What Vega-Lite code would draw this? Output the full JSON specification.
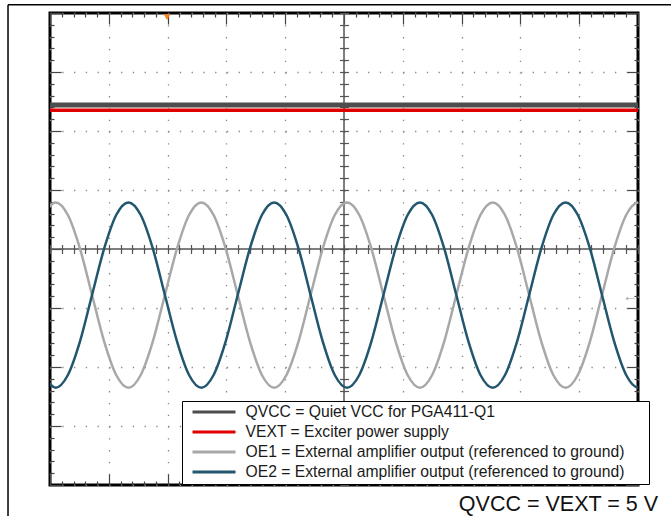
{
  "$schema": "https://vega.github.io/schema/vega-lite/v6.json",
  "width": 588,
  "height": 472,
  "autosize": "none",
  "padding": {"left": 50, "top": 13, "right": 33, "bottom": 31},
  "background": "white",
  "config": {
    "view": {"stroke": "#000", "strokeWidth": 3},
    "font": "Liberation Sans"
  },
  "title": {
    "text": "QVCC = VEXT = 5 V",
    "orient": "bottom",
    "anchor": "end",
    "frame": "group",
    "fontSize": 21.5,
    "fontWeight": "normal",
    "font": "Liberation Sans",
    "color": "#111",
    "dx": 20,
    "offset": -27.5
  },
  "datasets": {
    "one": [{}],
    "scope": [
      {"t": -5.111, "OE1": 0.58, "OE2": -2.14, "QVCC": 2.44, "VEXT": 2.35},
      {"t": -4.904, "OE1": 0.79, "OE2": -2.35, "QVCC": 2.44, "VEXT": 2.35},
      {"t": -4.698, "OE1": 0.58, "OE2": -2.14, "QVCC": 2.44, "VEXT": 2.35},
      {"t": -4.491, "OE1": 0.01, "OE2": -1.57, "QVCC": 2.44, "VEXT": 2.35},
      {"t": -4.285, "OE1": -0.78, "OE2": -0.78, "QVCC": 2.44, "VEXT": 2.35},
      {"t": -4.078, "OE1": -1.57, "OE2": 0.01, "QVCC": 2.44, "VEXT": 2.35},
      {"t": -3.872, "OE1": -2.14, "OE2": 0.58, "QVCC": 2.44, "VEXT": 2.35},
      {"t": -3.665, "OE1": -2.35, "OE2": 0.79, "QVCC": 2.44, "VEXT": 2.35},
      {"t": -3.459, "OE1": -2.14, "OE2": 0.58, "QVCC": 2.44, "VEXT": 2.35},
      {"t": -3.252, "OE1": -1.57, "OE2": 0.01, "QVCC": 2.44, "VEXT": 2.35},
      {"t": -3.046, "OE1": -0.78, "OE2": -0.78, "QVCC": 2.44, "VEXT": 2.35},
      {"t": -2.839, "OE1": 0.01, "OE2": -1.57, "QVCC": 2.44, "VEXT": 2.35},
      {"t": -2.633, "OE1": 0.58, "OE2": -2.14, "QVCC": 2.44, "VEXT": 2.35},
      {"t": -2.426, "OE1": 0.79, "OE2": -2.35, "QVCC": 2.44, "VEXT": 2.35},
      {"t": -2.220, "OE1": 0.58, "OE2": -2.14, "QVCC": 2.44, "VEXT": 2.35},
      {"t": -2.013, "OE1": 0.01, "OE2": -1.57, "QVCC": 2.44, "VEXT": 2.35},
      {"t": -1.807, "OE1": -0.78, "OE2": -0.78, "QVCC": 2.44, "VEXT": 2.35},
      {"t": -1.600, "OE1": -1.57, "OE2": 0.01, "QVCC": 2.44, "VEXT": 2.35},
      {"t": -1.394, "OE1": -2.14, "OE2": 0.58, "QVCC": 2.44, "VEXT": 2.35},
      {"t": -1.187, "OE1": -2.35, "OE2": 0.79, "QVCC": 2.44, "VEXT": 2.35},
      {"t": -0.981, "OE1": -2.14, "OE2": 0.58, "QVCC": 2.44, "VEXT": 2.35},
      {"t": -0.774, "OE1": -1.57, "OE2": 0.01, "QVCC": 2.44, "VEXT": 2.35},
      {"t": -0.568, "OE1": -0.78, "OE2": -0.78, "QVCC": 2.44, "VEXT": 2.35},
      {"t": -0.361, "OE1": 0.01, "OE2": -1.57, "QVCC": 2.44, "VEXT": 2.35},
      {"t": -0.155, "OE1": 0.58, "OE2": -2.14, "QVCC": 2.44, "VEXT": 2.35},
      {"t": 0.052, "OE1": 0.79, "OE2": -2.35, "QVCC": 2.44, "VEXT": 2.35},
      {"t": 0.258, "OE1": 0.58, "OE2": -2.14, "QVCC": 2.44, "VEXT": 2.35},
      {"t": 0.465, "OE1": 0.01, "OE2": -1.57, "QVCC": 2.44, "VEXT": 2.35},
      {"t": 0.671, "OE1": -0.78, "OE2": -0.78, "QVCC": 2.44, "VEXT": 2.35},
      {"t": 0.878, "OE1": -1.57, "OE2": 0.01, "QVCC": 2.44, "VEXT": 2.35},
      {"t": 1.084, "OE1": -2.14, "OE2": 0.58, "QVCC": 2.44, "VEXT": 2.35},
      {"t": 1.291, "OE1": -2.35, "OE2": 0.79, "QVCC": 2.44, "VEXT": 2.35},
      {"t": 1.497, "OE1": -2.14, "OE2": 0.58, "QVCC": 2.44, "VEXT": 2.35},
      {"t": 1.704, "OE1": -1.57, "OE2": 0.01, "QVCC": 2.44, "VEXT": 2.35},
      {"t": 1.910, "OE1": -0.78, "OE2": -0.78, "QVCC": 2.44, "VEXT": 2.35},
      {"t": 2.117, "OE1": 0.01, "OE2": -1.57, "QVCC": 2.44, "VEXT": 2.35},
      {"t": 2.323, "OE1": 0.58, "OE2": -2.14, "QVCC": 2.44, "VEXT": 2.35},
      {"t": 2.530, "OE1": 0.79, "OE2": -2.35, "QVCC": 2.44, "VEXT": 2.35},
      {"t": 2.736, "OE1": 0.58, "OE2": -2.14, "QVCC": 2.44, "VEXT": 2.35},
      {"t": 2.943, "OE1": 0.01, "OE2": -1.57, "QVCC": 2.44, "VEXT": 2.35},
      {"t": 3.149, "OE1": -0.78, "OE2": -0.78, "QVCC": 2.44, "VEXT": 2.35},
      {"t": 3.356, "OE1": -1.57, "OE2": 0.01, "QVCC": 2.44, "VEXT": 2.35},
      {"t": 3.562, "OE1": -2.14, "OE2": 0.58, "QVCC": 2.44, "VEXT": 2.35},
      {"t": 3.769, "OE1": -2.35, "OE2": 0.79, "QVCC": 2.44, "VEXT": 2.35},
      {"t": 3.975, "OE1": -2.14, "OE2": 0.58, "QVCC": 2.44, "VEXT": 2.35},
      {"t": 4.182, "OE1": -1.57, "OE2": 0.01, "QVCC": 2.44, "VEXT": 2.35},
      {"t": 4.388, "OE1": -0.78, "OE2": -0.78, "QVCC": 2.44, "VEXT": 2.35},
      {"t": 4.595, "OE1": 0.01, "OE2": -1.57, "QVCC": 2.44, "VEXT": 2.35},
      {"t": 4.801, "OE1": 0.58, "OE2": -2.14, "QVCC": 2.44, "VEXT": 2.35},
      {"t": 5.008, "OE1": 0.79, "OE2": -2.35, "QVCC": 2.44, "VEXT": 2.35},
      {"t": 5.214, "OE1": 0.58, "OE2": -2.14, "QVCC": 2.44, "VEXT": 2.35}
    ]
  },
  "resolve": {"axis": {"x": "independent", "y": "independent"}},
  "layer": [
    {
      "data": {"name": "one"},
      "mark": {"type": "rule", "color": "#000", "strokeWidth": 1.5, "clip": false},
      "encoding": {
        "x": {"datum": -5.714, "type": "quantitative", "scale": {"domain": [-5, 5], "nice": false, "zero": false}, "axis": null},
        "y": {"datum": 4.14, "type": "quantitative", "scale": {"domain": [-4, 4], "nice": false, "zero": false}, "axis": null},
        "y2": {"datum": -4.6}
      }
    },
    {
      "data": {"name": "one"},
      "mark": {"type": "rule", "color": "#000", "strokeWidth": 1.5, "clip": false},
      "encoding": {
        "x": {"datum": -5.714, "type": "quantitative", "axis": null},
        "x2": {"datum": 5.8},
        "y": {"datum": 4.14, "type": "quantitative", "axis": null}
      }
    },
    {
      "data": {"name": "one"},
      "mark": {"type": "rule", "color": "#555", "strokeWidth": 1.5},
      "encoding": {"y": {"datum": 0, "type": "quantitative", "axis": null}}
    },
    {
      "data": {"name": "one"},
      "mark": {"type": "rule", "color": "#555", "strokeWidth": 1.5},
      "encoding": {"x": {"datum": 0, "type": "quantitative", "axis": null}}
    },
    {
      "data": {"name": "scope"},
      "transform": [{"fold": ["QVCC", "VEXT", "OE1", "OE2"], "as": ["s", "v"]}],
      "mark": {"type": "line", "clip": true, "interpolate": "monotone"},
      "encoding": {
        "x": {
          "field": "t", "type": "quantitative",
          "axis": {
            "orient": "bottom", "title": null, "labels": false, "domain": false,
            "values": [-5,-4.8,-4.6,-4.4,-4.2,-4,-3.8,-3.6,-3.4,-3.2,-3,-2.8,-2.6,-2.4,-2.2,-2,-1.8,-1.6,-1.4,-1.2,-1,-0.8,-0.6,-0.4,-0.2,0,0.2,0.4,0.6,0.8,1,1.2,1.4,1.6,1.8,2,2.2,2.4,2.6,2.8,3,3.2,3.4,3.6,3.8,4,4.2,4.4,4.6,4.8,5],
            "ticks": true, "tickColor": "#444", "tickWidth": 1.2,
            "tickSize": {"condition": {"test": "abs(datum.value - round(datum.value)) < 0.01", "value": -11}, "value": -4},
            "grid": true, "gridColor": "#888", "gridWidth": 1.3, "gridDash": [1.3, 10.5],
            "gridOpacity": {"condition": {"test": "abs(datum.value - round(datum.value)) < 0.01", "value": 1}, "value": 0}
          }
        },
        "y": {
          "field": "v", "type": "quantitative",
          "axis": {
            "orient": "left", "title": null, "labels": false, "domain": false,
            "values": [-4,-3.8,-3.6,-3.4,-3.2,-3,-2.8,-2.6,-2.4,-2.2,-2,-1.8,-1.6,-1.4,-1.2,-1,-0.8,-0.6,-0.4,-0.2,0,0.2,0.4,0.6,0.8,1,1.2,1.4,1.6,1.8,2,2.2,2.4,2.6,2.8,3,3.2,3.4,3.6,3.8,4],
            "ticks": true, "tickColor": "#444", "tickWidth": 1.2,
            "tickSize": {"condition": {"test": "abs(datum.value - round(datum.value)) < 0.01", "value": -11}, "value": -4},
            "grid": true, "gridColor": "#888", "gridWidth": 1.3, "gridDash": [1.3, 10.46],
            "gridOpacity": {"condition": {"test": "abs(datum.value - round(datum.value)) < 0.01", "value": 1}, "value": 0}
          }
        },
        "color": {
          "field": "s", "type": "nominal",
          "scale": {"domain": ["QVCC", "VEXT", "OE1", "OE2"], "range": ["#4d4d4d", "#e00000", "#a8a8a8", "#22566e"]},
          "legend": {
            "orient": "none", "legendX": 132, "legendY": 388, "title": null,
            "symbolType": "stroke", "symbolSize": 1849, "symbolStrokeWidth": 3,
            "clipHeight": 15, "rowPadding": 3, "padding": 3.5,
            "symbolOffset": 5.5, "labelOffset": 8.5,
            "labelFont": "Liberation Sans", "labelFontSize": 15.7, "labelColor": "#1a1a1a", "labelLimit": 700,
            "strokeColor": "#000", "fillColor": "#fff",
            "labelExpr": "datum.label == 'QVCC' ? 'QVCC = Quiet VCC for PGA411-Q1' : datum.label == 'VEXT' ? 'VEXT = Exciter power supply' : datum.label == 'OE1' ? 'OE1 = External amplifier output (referenced to ground)\u00a0\u00a0\u2800' : 'OE2 = External amplifier output (referenced to ground)\u00a0\u00a0\u2800'"
          }
        },
        "strokeWidth": {
          "condition": [
            {"test": "datum.s == 'QVCC'", "value": 5},
            {"test": "datum.s == 'VEXT'", "value": 3.5}
          ],
          "value": 2.5
        }
      }
    },
    {
      "data": {"name": "one"},
      "mark": {"type": "point", "shape": "triangle-down", "filled": true, "color": "#f5821f", "size": 45, "opacity": 1},
      "encoding": {
        "x": {
          "datum": -3.01, "type": "quantitative",
          "axis": {
            "orient": "top", "title": null, "labels": false, "domain": false, "grid": false,
            "values": [-5,-4.8,-4.6,-4.4,-4.2,-4,-3.8,-3.6,-3.4,-3.2,-3,-2.8,-2.6,-2.4,-2.2,-2,-1.8,-1.6,-1.4,-1.2,-1,-0.8,-0.6,-0.4,-0.2,0,0.2,0.4,0.6,0.8,1,1.2,1.4,1.6,1.8,2,2.2,2.4,2.6,2.8,3,3.2,3.4,3.6,3.8,4,4.2,4.4,4.6,4.8,5],
            "tickColor": "#444", "tickWidth": 1.2,
            "tickSize": {"condition": {"test": "abs(datum.value - round(datum.value)) < 0.01", "value": -11}, "value": -4}
          }
        },
        "y": {
          "datum": 3.93, "type": "quantitative",
          "axis": {
            "orient": "right", "title": null, "labels": false, "domain": false, "grid": false,
            "values": [-4,-3.8,-3.6,-3.4,-3.2,-3,-2.8,-2.6,-2.4,-2.2,-2,-1.8,-1.6,-1.4,-1.2,-1,-0.8,-0.6,-0.4,-0.2,0,0.2,0.4,0.6,0.8,1,1.2,1.4,1.6,1.8,2,2.2,2.4,2.6,2.8,3,3.2,3.4,3.6,3.8,4],
            "tickColor": "#444", "tickWidth": 1.2,
            "tickSize": {"condition": {"test": "abs(datum.value - round(datum.value)) < 0.01", "value": -11}, "value": -4}
          }
        }
      }
    },
    {
      "data": {"name": "one"},
      "mark": {"type": "text", "text": "←", "fontSize": 15, "color": "#a0a0a0", "align": "center", "baseline": "middle"},
      "encoding": {
        "x": {
          "datum": 4.87, "type": "quantitative",
          "axis": {
            "orient": "bottom", "offset": -240.5, "title": null, "labels": false, "domain": false, "grid": false,
            "values": [-5,-4.8,-4.6,-4.4,-4.2,-4,-3.8,-3.6,-3.4,-3.2,-3,-2.8,-2.6,-2.4,-2.2,-2,-1.8,-1.6,-1.4,-1.2,-1,-0.8,-0.6,-0.4,-0.2,0,0.2,0.4,0.6,0.8,1,1.2,1.4,1.6,1.8,2,2.2,2.4,2.6,2.8,3,3.2,3.4,3.6,3.8,4,4.2,4.4,4.6,4.8,5],
            "tickColor": "#555", "tickWidth": 1.2, "tickSize": 9
          }
        },
        "y": {
          "datum": -0.8, "type": "quantitative",
          "axis": {
            "orient": "left", "offset": -298.5, "title": null, "labels": false, "domain": false, "grid": false,
            "values": [-4,-3.8,-3.6,-3.4,-3.2,-3,-2.8,-2.6,-2.4,-2.2,-2,-1.8,-1.6,-1.4,-1.2,-1,-0.8,-0.6,-0.4,-0.2,0,0.2,0.4,0.6,0.8,1,1.2,1.4,1.6,1.8,2,2.2,2.4,2.6,2.8,3,3.2,3.4,3.6,3.8,4],
            "tickColor": "#555", "tickWidth": 1.2, "tickSize": 9
          }
        }
      }
    }
  ]
}
